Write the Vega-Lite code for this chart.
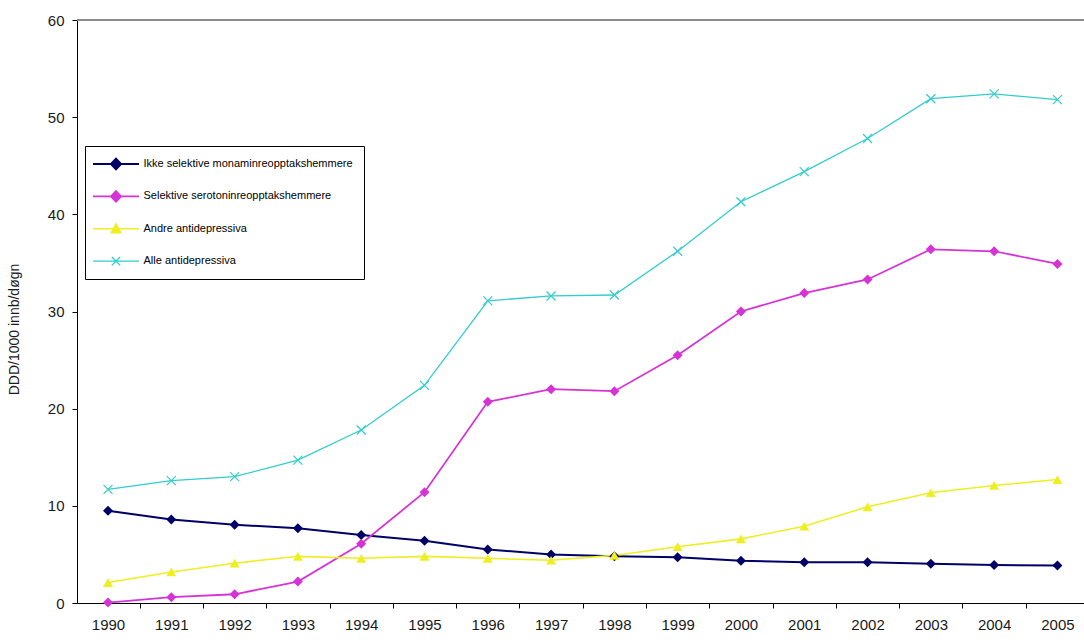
{
  "$schema": "https://vega.github.io/schema/vega-lite/v6.json",
  "width": 1007,
  "height": 583,
  "autosize": {"type": "none"},
  "padding": {"left": 77, "top": 20, "right": 0, "bottom": 39},
  "background": "white",
  "config": {"view": {"stroke": null}, "font": "Liberation Sans"},
  "data": {"values": [
    {"year": 1990, "series": "Ikke selektive monaminreopptakshemmere", "value": 9.5},
    {"year": 1991, "series": "Ikke selektive monaminreopptakshemmere", "value": 8.6},
    {"year": 1992, "series": "Ikke selektive monaminreopptakshemmere", "value": 8.05},
    {"year": 1993, "series": "Ikke selektive monaminreopptakshemmere", "value": 7.7},
    {"year": 1994, "series": "Ikke selektive monaminreopptakshemmere", "value": 7.0},
    {"year": 1995, "series": "Ikke selektive monaminreopptakshemmere", "value": 6.4},
    {"year": 1996, "series": "Ikke selektive monaminreopptakshemmere", "value": 5.5},
    {"year": 1997, "series": "Ikke selektive monaminreopptakshemmere", "value": 5.0},
    {"year": 1998, "series": "Ikke selektive monaminreopptakshemmere", "value": 4.8},
    {"year": 1999, "series": "Ikke selektive monaminreopptakshemmere", "value": 4.7},
    {"year": 2000, "series": "Ikke selektive monaminreopptakshemmere", "value": 4.35},
    {"year": 2001, "series": "Ikke selektive monaminreopptakshemmere", "value": 4.2},
    {"year": 2002, "series": "Ikke selektive monaminreopptakshemmere", "value": 4.2},
    {"year": 2003, "series": "Ikke selektive monaminreopptakshemmere", "value": 4.05},
    {"year": 2004, "series": "Ikke selektive monaminreopptakshemmere", "value": 3.9},
    {"year": 2005, "series": "Ikke selektive monaminreopptakshemmere", "value": 3.85},
    {"year": 1990, "series": "Selektive serotoninreopptakshemmere", "value": 0.05},
    {"year": 1991, "series": "Selektive serotoninreopptakshemmere", "value": 0.6},
    {"year": 1992, "series": "Selektive serotoninreopptakshemmere", "value": 0.9},
    {"year": 1993, "series": "Selektive serotoninreopptakshemmere", "value": 2.2},
    {"year": 1994, "series": "Selektive serotoninreopptakshemmere", "value": 6.1},
    {"year": 1995, "series": "Selektive serotoninreopptakshemmere", "value": 11.4},
    {"year": 1996, "series": "Selektive serotoninreopptakshemmere", "value": 20.7},
    {"year": 1997, "series": "Selektive serotoninreopptakshemmere", "value": 22.0},
    {"year": 1998, "series": "Selektive serotoninreopptakshemmere", "value": 21.8},
    {"year": 1999, "series": "Selektive serotoninreopptakshemmere", "value": 25.5},
    {"year": 2000, "series": "Selektive serotoninreopptakshemmere", "value": 30.0},
    {"year": 2001, "series": "Selektive serotoninreopptakshemmere", "value": 31.9},
    {"year": 2002, "series": "Selektive serotoninreopptakshemmere", "value": 33.3},
    {"year": 2003, "series": "Selektive serotoninreopptakshemmere", "value": 36.4},
    {"year": 2004, "series": "Selektive serotoninreopptakshemmere", "value": 36.2},
    {"year": 2005, "series": "Selektive serotoninreopptakshemmere", "value": 34.9},
    {"year": 1990, "series": "Andre antidepressiva", "value": 2.1},
    {"year": 1991, "series": "Andre antidepressiva", "value": 3.2},
    {"year": 1992, "series": "Andre antidepressiva", "value": 4.1},
    {"year": 1993, "series": "Andre antidepressiva", "value": 4.8},
    {"year": 1994, "series": "Andre antidepressiva", "value": 4.6},
    {"year": 1995, "series": "Andre antidepressiva", "value": 4.8},
    {"year": 1996, "series": "Andre antidepressiva", "value": 4.6},
    {"year": 1997, "series": "Andre antidepressiva", "value": 4.4},
    {"year": 1998, "series": "Andre antidepressiva", "value": 4.9},
    {"year": 1999, "series": "Andre antidepressiva", "value": 5.8},
    {"year": 2000, "series": "Andre antidepressiva", "value": 6.6},
    {"year": 2001, "series": "Andre antidepressiva", "value": 7.9},
    {"year": 2002, "series": "Andre antidepressiva", "value": 9.9},
    {"year": 2003, "series": "Andre antidepressiva", "value": 11.35},
    {"year": 2004, "series": "Andre antidepressiva", "value": 12.1},
    {"year": 2005, "series": "Andre antidepressiva", "value": 12.7},
    {"year": 1990, "series": "Alle antidepressiva", "value": 11.7},
    {"year": 1991, "series": "Alle antidepressiva", "value": 12.6},
    {"year": 1992, "series": "Alle antidepressiva", "value": 13.0},
    {"year": 1993, "series": "Alle antidepressiva", "value": 14.7},
    {"year": 1994, "series": "Alle antidepressiva", "value": 17.8},
    {"year": 1995, "series": "Alle antidepressiva", "value": 22.4},
    {"year": 1996, "series": "Alle antidepressiva", "value": 31.1},
    {"year": 1997, "series": "Alle antidepressiva", "value": 31.6},
    {"year": 1998, "series": "Alle antidepressiva", "value": 31.7},
    {"year": 1999, "series": "Alle antidepressiva", "value": 36.2},
    {"year": 2000, "series": "Alle antidepressiva", "value": 41.3},
    {"year": 2001, "series": "Alle antidepressiva", "value": 44.4},
    {"year": 2002, "series": "Alle antidepressiva", "value": 47.8},
    {"year": 2003, "series": "Alle antidepressiva", "value": 51.9},
    {"year": 2004, "series": "Alle antidepressiva", "value": 52.4},
    {"year": 2005, "series": "Alle antidepressiva", "value": 51.8}
  ]},
  "layer": [
    {
      "mark": {"type": "line"},
      "encoding": {
        "x": {"field": "year", "type": "quantitative",
          "scale": {"domain": [1989.51, 2005.42], "nice": false, "zero": false},
          "axis": {"values": [1990,1991,1992,1993,1994,1995,1996,1997,1998,1999,2000,2001,2002,2003,2004,2005],
            "format": "d", "title": null, "grid": false, "domainColor": "#000", "tickColor": "#000",
            "tickSize": 5, "tickOffset": 31.65, "labelOffset": -31.65, "labelFontSize": 15, "labelColor": "#1a1a1a",
            "labelPadding": 9, "labelFlush": false, "labelOverlap": false}},
        "y": {"field": "value", "type": "quantitative",
          "scale": {"domain": [0, 60], "nice": false},
          "axis": {"values": [0,10,20,30,40,50,60], "title": "DDD/1000 innb/døgn", "titleFontSize": 14,
            "titleFontWeight": "normal", "titleColor": "#1a1a1a", "titlePadding": 26, "titleY": 309, "grid": false,
            "domainColor": "#000", "tickColor": "#000", "tickSize": 5, "labelPadding": 8,
            "labelFontSize": 15, "labelColor": "#1a1a1a"}},
        "color": {"field": "series", "type": "nominal",
          "scale": {"domain": ["Ikke selektive monaminreopptakshemmere", "Selektive serotoninreopptakshemmere", "Andre antidepressiva", "Alle antidepressiva"],
            "range": ["#000066", "#D633D6", "#EEEE22", "#33CCCC"]},
          "legend": {
            "orient": "none", "legendX": 8, "legendY": 126, "title": null,
            "fillColor": "white", "strokeColor": "#000", "padding": 11,
            "labelFont": "Liberation Sans", "labelFontSize": 11, "labelColor": "#000", "labelLimit": 0,
            "symbolSize": 144, "symbolOffset": 13, "labelOffset": 20.5, "rowPadding": 13.4, "gridAlign": "all",
            "symbolStrokeWidth": 1.5, "symbolType": "M-3.83,0H3.83",
            "encode": {"symbols": {"update": {
              "shape": {"signal": "datum.value === 'Andre antidepressiva' ? 'M-3.83,0H3.83M0,-0.8L0.8,0.65L-0.8,0.65Z' : (datum.value === 'Alle antidepressiva' ? 'M-3.83,0H3.83M-0.7,-0.7L0.7,0.7M-0.7,0.7L0.7,-0.7' : 'M-3.83,0H3.83M0,-0.9L0.85,0L0,0.9L-0.85,0Z')"},
              "fill": {"scale": "color", "field": "value"},
              "stroke": {"scale": "color", "field": "value"},
              "opacity": {"value": 1}
            }}}
          }},
        "strokeWidth": {"field": "series", "type": "nominal",
          "scale": {"domain": ["Ikke selektive monaminreopptakshemmere", "Selektive serotoninreopptakshemmere", "Andre antidepressiva", "Alle antidepressiva"],
            "range": [2, 1.3, 1.5, 1.5]}, "legend": null}
      }
    },
    {
      "mark": {"type": "rule", "color": "#8a8a8a", "strokeWidth": 1},
      "encoding": {"y": {"datum": 60, "type": "quantitative"}}
    },
    {
      "transform": [{"filter": "datum.series !== 'Alle antidepressiva'"}],
      "mark": {"type": "point", "filled": true, "opacity": 1, "size": 100},
      "encoding": {
        "x": {"field": "year", "type": "quantitative"},
        "y": {"field": "value", "type": "quantitative"},
        "color": {"field": "series", "type": "nominal", "legend": null},
        "shape": {"field": "series", "type": "nominal",
          "scale": {"domain": ["Ikke selektive monaminreopptakshemmere", "Selektive serotoninreopptakshemmere", "Andre antidepressiva"],
            "range": ["diamond", "diamond", "triangle-up"]}, "legend": null}
      }
    },
    {
      "transform": [{"filter": "datum.series === 'Alle antidepressiva'"}],
      "mark": {"type": "point", "filled": false, "opacity": 1, "size": 81, "strokeWidth": 1.2, "shape": "M-1,-1L1,1M-1,1L1,-1"},
      "encoding": {
        "x": {"field": "year", "type": "quantitative"},
        "y": {"field": "value", "type": "quantitative"},
        "color": {"field": "series", "type": "nominal", "legend": null}
      }
    }
  ]
}
